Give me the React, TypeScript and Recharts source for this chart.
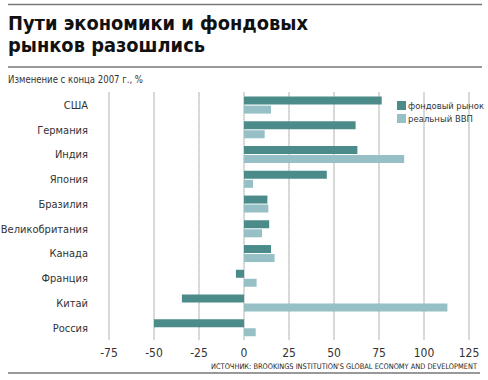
import React from 'react';
import { BarChart, Bar, XAxis, YAxis, CartesianGrid } from 'recharts';

const countries = ['США', 'Германия', 'Индия', 'Япония', 'Бразилия', 'Великобритания', 'Канада', 'Франция', 'Китай', 'Россия'];
const stockMarket = [76.5, 62, 63, 46, 13, 14, 15, -4.5, -34.5, -50];
const realGdp = [15, 11.5, 89, 5, 13.5, 10, 17, 7, 113, 6.5];
const xTicks = [-75, -50, -25, 0, 25, 50, 75, 100, 125];

const STOCK = '#4b8b8a';
const GDP = '#96c0c5';
const FONT = "'DejaVu Sans Condensed', 'DejaVu Sans', sans-serif";

const data = countries.map((name, i) => ({ name, stock: stockMarket[i], gdp: realGdp[i] }));

const App: React.FC = () => {
  return (
    <div style={{ position: 'absolute', left: 0, top: 0, width: 488, height: 380, background: '#fff' }}>
      <BarChart
        width={488}
        height={380}
        data={data}
        layout="vertical"
        margin={{ top: 92.6, right: 19, bottom: 10, left: 9 }}
        barSize={8}
        barGap={1}
      >
        <CartesianGrid horizontal={false} stroke="#666" strokeDasharray="1 1" />
        <XAxis
          type="number"
          domain={[-75, 125]}
          ticks={xTicks}
          axisLine={false}
          tickLine={false}
          height={30}
          tick={{ fill: '#333', fontSize: 12, fontFamily: FONT }}
        />
        <YAxis
          type="category"
          dataKey="name"
          width={100}
          axisLine={false}
          tickLine={false}
          tickMargin={15}
          tick={{ fill: '#333', fontSize: 11, fontFamily: FONT }}
        />
        <Bar dataKey="stock" fill={STOCK} isAnimationActive={false} />
        <Bar dataKey="gdp" fill={GDP} isAnimationActive={false} />
      </BarChart>

      <svg width={488} height={380} style={{ position: 'absolute', left: 0, top: 0, pointerEvents: 'none' }}>
        <line x1={8} x2={482} y1={4.5} y2={4.5} stroke="#777" strokeWidth={1.5} />
        <text x={8} y={30} fontFamily="'DejaVu Sans', sans-serif" fontWeight="bold" fontSize={19} fill="#111"
          textLength={300} lengthAdjust="spacingAndGlyphs">Пути экономики и фондовых</text>
        <text x={8} y={52} fontFamily="'DejaVu Sans', sans-serif" fontWeight="bold" fontSize={19} fill="#111"
          textLength={197} lengthAdjust="spacingAndGlyphs">рынков разошлись</text>
        <line x1={8} x2={482} y1={67} y2={67} stroke="#777" strokeWidth={1.5} />
        <text x={8} y={83} fontFamily={FONT} fontSize={11} fill="#333"
          textLength={135} lengthAdjust="spacingAndGlyphs">Изменение с конца 2007 г., %</text>

        <rect x={397} y={101} width={9} height={9} fill={STOCK} />
        <text x={408} y={109} fontFamily={FONT} fontSize={9.5} fill="#333"
          textLength={76} lengthAdjust="spacingAndGlyphs">фондовый рынок</text>
        <rect x={397} y={114} width={9} height={9} fill={GDP} />
        <text x={408} y={122} fontFamily={FONT} fontSize={9.5} fill="#333"
          textLength={65} lengthAdjust="spacingAndGlyphs">реальный ВВП</text>

        <text x={477} y={369} textAnchor="end" fontFamily={FONT} fontSize={7.6} fill="#222"
          textLength={266} lengthAdjust="spacingAndGlyphs">ИСТОЧНИК: BROOKINGS INSTITUTION'S GLOBAL ECONOMY AND DEVELOPMENT</text>
        <line x1={8} x2={480} y1={373} y2={373} stroke="#777" strokeWidth={1.5} />
      </svg>
    </div>
  );
};

export default App;
